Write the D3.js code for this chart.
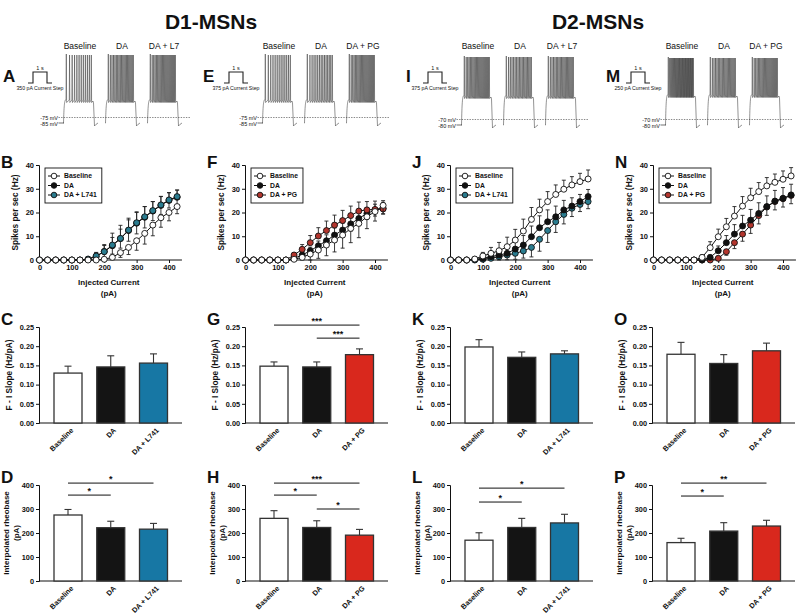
<!DOCTYPE html>
<html><head><meta charset="utf-8">
<script src="https://cdn.jsdelivr.net/npm/d3@7"></script>
<style>
body{margin:0;background:#fff}
svg{display:block}
text{font-family:"Liberation Sans",Arial,sans-serif}
</style>
</head><body><svg id="c" width="798" height="615"></svg>
<script>
// ---------------- DATA ----------------
const titles = ["D1-MSNs", "D2-MSNs"];
const currents = [0,25,50,75,100,125,150,175,200,225,250,275,300,325,350,375,400,425];
const fiTicksX = [0,100,200,300,400];
const fiTicksY = [0,10,20,30,40];
const slopeTicks = [0,0.05,0.10,0.15,0.20,0.25];
const rheoTicks = [0,100,200,300,400];
const groupsL741 = ["Baseline","DA","DA + L741"];
const groupsPG = ["Baseline","DA","DA + PG"];

// Panel B (D1, L741)
const bBaseline = [0,0,0,0,0,0,0,0,0.3,1.1,3.1,5.3,8.1,11.2,14.7,17.8,20.0,22.5];
const bDA       = [0,0,0,0,0,0,0.3,1.5,3.6,6.0,9.0,12.4,15.5,18.0,20.6,23.0,25.1,26.4];
const bL741     = [0,0,0,0,0,0,0.4,1.7,3.5,6.3,9.1,12.6,15.7,18.2,20.8,23.2,25.3,26.7];
const bBaselineErr = [0,0,0,0,0,0,0,0,0.3,1.0,2.0,3.0,4.0,4.5,4.5,4.0,3.5,3.0];
const bDAErr       = [0,0,0,0,0,0,0.5,1.5,2.5,3.5,4.0,4.5,4.5,4.5,4.0,3.8,3.2,3.0];
const bL741Err     = [0,0,0,0,0,0,0.5,1.5,3.0,5.0,5.5,5.0,4.6,4.3,3.8,3.5,3.1,2.8];

// Panel F (D1, PG)
const fBaseline = [0,0,0,0,0,0,0.3,1.1,2.5,4.2,6.3,8.4,10.5,13.3,15.4,18.2,20.4,23.0];
const fDA       = [0,0,0,0,0,0,0.7,2.1,3.9,6.0,8.1,10.5,12.6,15.2,17.5,19.6,21.0,21.8];
const fPG       = [0,0,0,0,0,0,2.1,4.5,7.3,10.1,12.4,14.7,16.6,18.7,20.6,21.1,21.3,21.5];
const fBaselineErr = [0,0,0,0,0,0,0.5,1.5,2.5,3.5,4.5,5.0,5.5,6.0,6.0,5.0,4.0,3.5];
const fDAErr       = [0,0,0,0,0,0,0.5,1.0,1.5,2.0,2.5,3.0,3.0,3.0,3.0,2.5,2.5,2.5];
const fPGErr       = [0,0,0,0,0,0,1.0,2.0,3.0,3.5,4.0,4.2,4.3,4.0,3.8,3.5,3.5,3.5];

// Panel J (D2, L741)
const jBaseline = [0,0,0,0.4,1.7,2.8,3.9,5.6,8.4,12.2,17.1,21.1,24.6,27.6,29.8,31.6,33.0,34.1];
const jDA       = [0,0,0,0.3,0.7,1.4,2.1,2.8,4.6,6.3,9.8,13.6,16.1,18.2,21.1,22.7,24.6,26.7];
const jL741     = [0,0,0,0,0.3,0.7,1.4,2.1,2.8,3.8,5.3,8.7,12.4,16.1,19.2,21.8,23.4,24.6];
const jBaselineErr = [0,0,0,0.5,1.5,2.5,3.5,4.0,4.5,5.0,5.0,4.5,4.2,4.0,3.8,3.5,3.5,3.8];
const jDAErr       = [0,0,0,0.3,0.8,1.5,2.5,3.0,3.5,4.0,4.5,5.0,5.0,4.5,4.0,3.5,3.0,3.0];
const jL741Err     = [0,0,0,0,0.5,1.0,1.5,2.0,2.5,3.0,4.0,5.0,5.0,4.5,4.0,3.5,3.0,3.0];

// Panel N (D2, PG)
const nBaseline = [0,0,0,0,0,0,1.1,5.2,9.8,14.0,18.5,22.7,26.2,28.8,31.2,32.7,34.0,35.4];
const nDA       = [0,0,0,0,0,0,0,1.1,3.9,7.3,10.9,14.3,16.8,19.6,22.5,24.8,26.0,27.4];
const nPG       = [0,0,0,0,0,0,0,0,0.7,3.5,7.3,10.9,14.7,18.7,22.3,24.6,25.8,27.2];
const nBaselineErr = [0,0,0,0,0,0,1.0,2.5,3.2,3.5,4.0,4.0,4.0,3.8,3.5,3.5,3.5,3.5];
const nDAErr       = [0,0,0,0,0,0,0,1.0,2.0,3.0,4.0,4.5,4.5,4.5,4.5,4.5,4.5,4.5];
const nPGErr       = [0,0,0,0,0,0,0,0,0.5,1.5,2.5,3.0,3.5,3.5,3.5,3.5,3.5,3.5];

// F-I slope bars (Hz/pA)
const cSlope = [0.130,0.146,0.156], cSlopeErr = [0.018,0.029,0.024];
const gSlope = [0.148,0.146,0.178], gSlopeErr = [0.011,0.013,0.015];
const kSlope = [0.198,0.171,0.180], kSlopeErr = [0.019,0.014,0.008];
const oSlope = [0.179,0.155,0.188], oSlopeErr = [0.031,0.023,0.020];

// Interpolated rheobase bars (pA)
const dRheo = [275,222,216], dRheoErr = [23,27,24];
const hRheo = [261,223,191], hRheoErr = [32,28,24];
const lRheo = [170,223,242], lRheoErr = [31,38,36];
const pRheo = [160,208,229], pRheoErr = [18,35,24];

// significance brackets: [from group, to group, label, height in data units]
const gSig = [[0,2,"***",0.255],[1,2,"***",0.221]];
const dSig = [[0,2,"*",408],[0,1,"*",358]];
const hSig = [[0,2,"***",408],[0,1,"*",358],[1,2,"*",300]];
const lSig = [[0,2,"*",387],[0,1,"*",329]];
const pSig = [[0,2,"**",408],[0,1,"*",354]];

// example traces (spike counts per condition)
const traceLabelsA = ["Baseline","DA","DA + L7"], spikesA = [12,20,22];
const traceLabelsE = ["Baseline","DA","DA + PG"], spikesE = [13,15,22];
const traceLabelsI = ["Baseline","DA","DA + L7"], spikesI = [22,18,20];
const traceLabelsM = ["Baseline","DA","DA + PG"], spikesM = [32,20,22];
const stepLabels = ["350 pA Current Step","375 pA Current Step","375 pA Current Step","250 pA Current Step"];
const voltLabels = [["-75 mV","-85 mV"],["-75 mV","-85 mV"],["-70 mV","-80 mV"],["-70 mV","-80 mV"]];

// ---------------- STYLE ----------------
const BAR = {Baseline:"#ffffff", DA:"#141414", L741:"#1777a4", PG:"#d9281d"};
const MARK = {Baseline:"#ffffff", DA:"#111111", L741:"#2a7c8f", PG:"#b3352d"};
const svg = d3.select("#c");

function txt(g,x,y,s,size,opts={}){
  const t = g.append("text").attr("x",x).attr("y",y).attr("font-size",size)
    .attr("font-weight",opts.weight||"bold").attr("text-anchor",opts.anchor||"start")
    .attr("fill",opts.fill||"#111").text(s);
  if(opts.transform) t.attr("transform",opts.transform);
  return t;
}

// Titles
txt(svg,211,29,titles[0],21,{anchor:"middle"});
txt(svg,598,29,titles[1],21,{anchor:"middle"});

// ---------------- TRACES ----------------
function traces(ox, letter, labels, spikes, stepLabel, volts, tx0, restY, platY, peakY, sx){
  const g = svg.append("g");
  txt(g,ox+3,82,letter,17);
  const s0 = ox+sx;
  g.append("path").attr("d",`M${s0},83 L${s0+5},83 L${s0+5},72 L${s0+19},72 L${s0+19},83 L${s0+24},83`)
    .attr("fill","none").attr("stroke","#222").attr("stroke-width",1.1);
  txt(g,s0+12,70,"1 s",5.5,{anchor:"middle",weight:"normal"});
  txt(g,s0+12,90,stepLabel,5.2,{anchor:"middle",weight:"normal"});
  const vx = ox+tx0-5;
  txt(g,vx,restY-3.5,volts[0],5.5,{anchor:"end",weight:"normal"});
  txt(g,vx,restY+2.5,volts[1],5.5,{anchor:"end",weight:"normal"});
  g.append("line").attr("x1",vx+0.5).attr("x2",ox+tx0+128).attr("y1",restY-5.5).attr("y2",restY-5.5)
    .attr("stroke","#555").attr("stroke-width",0.7).attr("stroke-dasharray","1.4,1.2");
  g.append("line").attr("x1",vx+0.5).attr("x2",ox+tx0+1).attr("y1",restY).attr("y2",restY)
    .attr("stroke","#333").attr("stroke-width",0.7);
  labels.forEach((lab,k)=>{
    const x0 = ox+tx0+k*42, w = 34;
    txt(g,x0+w/2,49,lab,8.5,{anchor:"middle",weight:"normal"});
    const n = spikes[k];
    let p = `M${x0},${restY} L${x0+0.5},${restY} C${x0+1},${platY+6} ${x0+1.5},${platY+1} ${x0+2.5},${platY}`;
    const st = x0+3, en = x0+w-6;
    for(let i=0;i<n;i++){
      const f = Math.pow(i/(n-1),0.85);
      const xs = st + (en-st)*f;
      const pk = peakY + (i===0?-1:0);
      p += ` L${xs},${platY} L${xs+0.3},${pk} L${xs+0.6},${platY+2.5}`;
    }
    p += ` L${x0+w-4},${platY+1} L${x0+w-3.5},${platY+3} L${x0+w-2.5},${restY+3} Q${x0+w-1},${restY+1} ${x0+w+1},${restY}`;
    g.append("path").attr("d",p).attr("fill","none").attr("stroke","#3a3a3a").attr("stroke-width",0.55);
  });
}
traces(0,"A",traceLabelsA,spikesA,stepLabels[0],voltLabels[0],63,123,100,55,28);
traces(200,"E",traceLabelsE,spikesE,stepLabels[1],voltLabels[1],62,123,100,55,24);
traces(403,"I",traceLabelsI,spikesI,stepLabels[2],voltLabels[2],58,125,96,57,20);
traces(603,"M",traceLabelsM,spikesM,stepLabels[3],voltLabels[3],62,125,95,58,23);

// ---------------- F-I CURVES ----------------
function styleAxis(a){
  a.attr("font-size",7.5).attr("font-family","'Liberation Sans',Arial,sans-serif").attr("font-weight","bold");
  a.selectAll(".tick line").attr("stroke","#111");
  a.selectAll(".tick text").attr("fill","#111");
}
function fiChart(axX, letter, names, series, errs, dirs, keys, order){
  const g = svg.append("g");
  const x = d3.scaleLinear().domain([0,400]).range([axX+0.5, axX+130]);
  const y = d3.scaleLinear().domain([0,40]).range([260,165]);
  txt(g,axX-38,168,letter,17);
  const xa = g.append("g").attr("transform","translate(0,260)")
    .call(d3.axisBottom(x).tickValues(fiTicksX).tickSize(3).tickPadding(2));
  xa.select(".domain").remove(); styleAxis(xa);
  g.append("line").attr("x1",x(-12)).attr("x2",x(440)).attr("y1",260).attr("y2",260).attr("stroke","#111").attr("stroke-width",1);
  const ya = g.append("g").attr("transform",`translate(${axX},0)`)
    .call(d3.axisLeft(y).tickValues(fiTicksY).tickSize(3).tickPadding(2));
  ya.select(".domain").attr("stroke","#111"); styleAxis(ya);
  txt(g,(x(-12)+x(440))/2,285,"Injected Current",8,{anchor:"middle"});
  txt(g,(x(-12)+x(440))/2,296,"(pA)",8,{anchor:"middle"});
  txt(g,0,0,"Spikes per sec (Hz)",8.3,{anchor:"middle",transform:`translate(${axX-21},212.5) rotate(-90)`});
  order.forEach(si=>{
    const vals = series[si], er = errs[si], dir = dirs[si], col = MARK[keys[si]];
    const eg = g.append("g").attr("stroke","#222").attr("stroke-width",0.9);
    currents.forEach((c,i)=>{
      if(er[i]<=0.2) return;
      const yc = y(vals[i]);
      const ends = [];
      if(dir==="up"||dir==="both") ends.push(y(vals[i]+er[i]));
      if(dir==="down"||dir==="both") ends.push(y(Math.max(0,vals[i]-er[i])));
      ends.forEach(ye=>{
        eg.append("line").attr("x1",x(c)).attr("x2",x(c)).attr("y1",yc).attr("y2",ye);
        eg.append("line").attr("x1",x(c)-2).attr("x2",x(c)+2).attr("y1",ye).attr("y2",ye);
      });
    });
    g.append("path").datum(vals).attr("fill","none").attr("stroke","#111").attr("stroke-width",1)
      .attr("d",d3.line().x((d,i)=>x(currents[i])).y(d=>y(d)));
    g.selectAll(null).data(vals).enter().append("circle")
      .attr("cx",(d,i)=>x(currents[i])).attr("cy",d=>y(d)).attr("r",3)
      .attr("fill",col).attr("stroke","#111").attr("stroke-width",0.9);
  });
  const lg = g.append("g");
  const bx = axX+6, by = 168;
  const box = lg.append("rect").attr("x",bx).attr("y",by).attr("height",35).attr("fill","#fff").attr("stroke","#111").attr("stroke-width",0.9);
  let maxW = 0;
  names.forEach((nm,k)=>{
    const yy = by+8+k*9.5;
    lg.append("line").attr("x1",bx+3).attr("x2",bx+15).attr("y1",yy).attr("y2",yy).attr("stroke","#111").attr("stroke-width",1);
    lg.append("circle").attr("cx",bx+9).attr("cy",yy).attr("r",2.8).attr("fill",MARK[keys[k]]).attr("stroke","#111").attr("stroke-width",0.9);
    const t = txt(lg,bx+19,yy+2.4,nm,6.8);
    maxW = Math.max(maxW,t.node().getComputedTextLength());
  });
  box.attr("width",19+maxW+5);
}
fiChart(39,"B",groupsL741,[bBaseline,bDA,bL741],[bBaselineErr,bDAErr,bL741Err],["down","both","up"],["Baseline","DA","L741"],[1,2,0]);
fiChart(245,"F",groupsPG,[fBaseline,fDA,fPG],[fBaselineErr,fDAErr,fPGErr],["down","both","up"],["Baseline","DA","PG"],[1,2,0]);
fiChart(450,"J",groupsL741,[jBaseline,jDA,jL741],[jBaselineErr,jDAErr,jL741Err],["up","up","down"],["Baseline","DA","L741"],[2,1,0]);
fiChart(653,"N",groupsPG,[nBaseline,nDA,nPG],[nBaselineErr,nDAErr,nPGErr],["up","up","down"],["Baseline","DA","PG"],[2,1,0]);

// ---------------- BAR CHARTS ----------------
function barChart(axX, letter, yBot, yTop, max, ticks, fmt, vals, errs, groups, keys, sigs, ylab){
  const g = svg.append("g");
  const y = d3.scaleLinear().domain([0,max]).range([yBot,yTop]);
  const x = d3.scalePoint().domain(groups).range([axX+29, axX+114.5]);
  txt(g,axX-38,yTop-2,letter,17);
  const ya = g.append("g").attr("transform",`translate(${axX},0)`)
    .call(d3.axisLeft(y).tickValues(ticks).tickFormat(fmt).tickSize(3).tickPadding(2));
  ya.select(".domain").attr("stroke","#111"); styleAxis(ya); ya.attr("font-size",7.3);
  g.append("line").attr("x1",axX).attr("x2",axX+143).attr("y1",yBot).attr("y2",yBot).attr("stroke","#111").attr("stroke-width",1);
  const bw = 28;
  groups.forEach((gr,i)=>{
    const cx = x(gr);
    const top = y(vals[i]), et = y(vals[i]+errs[i]);
    g.append("line").attr("x1",cx).attr("x2",cx).attr("y1",top).attr("y2",et).attr("stroke","#333").attr("stroke-width",1.1);
    g.append("line").attr("x1",cx-3.5).attr("x2",cx+3.5).attr("y1",et).attr("y2",et).attr("stroke","#333").attr("stroke-width",1.1);
    g.append("rect").attr("x",cx-bw/2).attr("y",top).attr("width",bw).attr("height",yBot-top)
      .attr("fill",BAR[keys[i]]).attr("stroke","#333").attr("stroke-width",1.3);
    txt(g,0,0,gr,7.2,{anchor:"end",transform:`translate(${cx+4},${yBot+6}) rotate(-45)`}).attr("dy","0.35em");
  });
  sigs.forEach(([a,b,lab,h])=>{
    const yy = y(h);
    g.append("line").attr("x1",x(groups[a])).attr("x2",x(groups[b])).attr("y1",yy).attr("y2",yy).attr("stroke","#111").attr("stroke-width",1);
    txt(g,(x(groups[a])+x(groups[b]))/2,yy-1.5,lab,9,{anchor:"middle"});
  });
  const cy = (yBot+yTop)/2;
  if(ylab.length===1){
    txt(g,0,0,ylab[0],8.3,{anchor:"middle",transform:`translate(${axX-27},${cy}) rotate(-90)`});
  } else {
    txt(g,0,0,ylab[0],8,{anchor:"middle",transform:`translate(${axX-30},${cy}) rotate(-90)`});
    txt(g,0,0,ylab[1],8,{anchor:"middle",transform:`translate(${axX-20},${cy}) rotate(-90)`});
  }
}
const f2 = d3.format(".2f"), f0 = d3.format("d");
const slopeLab = ["F - I Slope (Hz/pA)"], rheoLab = ["Interpolated rheobase","(pA)"];
barChart(39,"C",423,327,0.25,slopeTicks,f2,cSlope,cSlopeErr,groupsL741,["Baseline","DA","L741"],[],slopeLab);
barChart(245,"G",423,327,0.25,slopeTicks,f2,gSlope,gSlopeErr,groupsPG,["Baseline","DA","PG"],gSig,slopeLab);
barChart(450,"K",423,327,0.25,slopeTicks,f2,kSlope,kSlopeErr,groupsL741,["Baseline","DA","L741"],[],slopeLab);
barChart(652,"O",423,327,0.25,slopeTicks,f2,oSlope,oSlopeErr,groupsPG,["Baseline","DA","PG"],[],slopeLab);
barChart(39,"D",581,485,400,rheoTicks,f0,dRheo,dRheoErr,groupsL741,["Baseline","DA","L741"],dSig,rheoLab);
barChart(245,"H",581,485,400,rheoTicks,f0,hRheo,hRheoErr,groupsPG,["Baseline","DA","PG"],hSig,rheoLab);
barChart(450,"L",581,485,400,rheoTicks,f0,lRheo,lRheoErr,groupsL741,["Baseline","DA","L741"],lSig,rheoLab);
barChart(652,"P",581,485,400,rheoTicks,f0,pRheo,pRheoErr,groupsPG,["Baseline","DA","PG"],pSig,rheoLab);
</script></body></html>
